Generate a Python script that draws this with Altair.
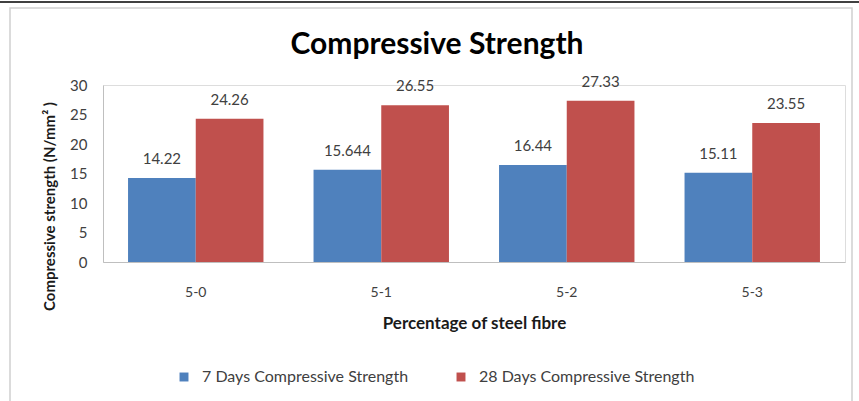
import altair as alt
import pandas as pd

# Mix designs and the two curing ages
mixes = ["5-0", "5-1", "5-2", "5-3"]
series_names = ["7 Days Compressive Strength", "28 Days Compressive Strength"]
strength_7d = [14.22, 15.644, 16.44, 15.11]
strength_28d = [24.26, 26.55, 27.33, 23.55]
y_ticks = [0, 5, 10, 15, 20, 25, 30]
colors = ["#4F81BD", "#C0504D"]

rows = []
for i, m in enumerate(mixes):
    rows.append({"mix": m, "series": series_names[0], "value": strength_7d[i]})
    rows.append({"mix": m, "series": series_names[1], "value": strength_28d[i]})
df = pd.DataFrame(rows)

FONT = "Lato"
PLOT_W, PLOT_H = 742, 177

x_enc = alt.X(
    "mix:N",
    sort=mixes,
    scale=alt.Scale(paddingInner=0.27, paddingOuter=0.135),
    axis=alt.Axis(
        title="Percentage of steel fibre",
        labelAngle=0,
        ticks=False,
        domainColor="#BFBFBF",
        labelPadding=23,
        labelFont=FONT,
        labelFontSize=14,
        labelColor="#404040",
        titlePadding=16,
        titleFont=FONT,
        titleFontSize=17,
        titleFontWeight="bold",
        titleColor="#1a1a1a",
    ),
)
y_enc = alt.Y(
    "value:Q",
    scale=alt.Scale(domain=[0, 30], nice=False),
    axis=alt.Axis(
        values=y_ticks,
        labelOverlap=False,
        title="Compressive strength (N/mm² )",
        grid=False,
        ticks=False,
        domainColor="#BFBFBF",
        labelPadding=16,
        labelFont=FONT,
        labelFontSize=15,
        labelColor="#404040",
        titlePadding=12,
        titleFont=FONT,
        titleFontSize=15,
        titleFontWeight="bold",
        titleColor="#1a1a1a",
        titleY=121,
    ),
)
x_off = alt.XOffset("series:N", sort=series_names)

bars = alt.Chart(df).mark_bar().encode(
    x=x_enc,
    xOffset=x_off,
    y=y_enc,
    color=alt.Color(
        "series:N",
        sort=series_names,
        scale=alt.Scale(domain=series_names, range=colors),
        legend=alt.Legend(
            title=None,
            orient="none",
            direction="horizontal",
            legendX=73,
            legendY=284,
            symbolType="square",
            symbolSize=80,
            symbolStrokeWidth=0,
            labelFontSize=16,
            labelColor="#404040",
            labelFont=FONT,
            labelLimit=400,
            columnPadding=44,
            labelOffset=10,
        ),
    ),
)

labels = alt.Chart(df).mark_text(
    baseline="bottom", dy=-11, fontSize=15, color="#404040", font=FONT
).encode(
    x=x_enc,
    xOffset=x_off,
    y=y_enc,
    text=alt.Text("value:Q"),
)

# light grey frame around the whole chart
frame = alt.Chart(pd.DataFrame({"k": [0]})).mark_rect(
    fill=None, stroke="#D0D0D0", strokeWidth=1.5, clip=False
).encode(
    x=alt.value(-93), x2=alt.value(749), y=alt.value(-77), y2=alt.value(330)
)

# table border running across the top of the page
page_rule = alt.Chart(pd.DataFrame({"k": [0]})).mark_rule(
    stroke="#000000", strokeWidth=1.5, clip=False
).encode(
    x=alt.value(-103), x2=alt.value(756), y=alt.value(-83)
)

chart = alt.layer(page_rule, frame, bars, labels).properties(
    width=PLOT_W,
    height=PLOT_H,
    padding={"left": 103, "top": 85, "right": 14, "bottom": 139},
    autosize=alt.AutoSizeParams(type="none"),
    title=alt.TitleParams(
        "Compressive Strength",
        fontSize=30,
        font=FONT,
        fontWeight="bold",
        color="#000000",
        anchor="middle",
        dx=-37,
        offset=-59,
    ),
).configure_view(stroke=None).configure(background="white")

chart.save("out.html", embed_options={"renderer": "svg", "actions": False})
